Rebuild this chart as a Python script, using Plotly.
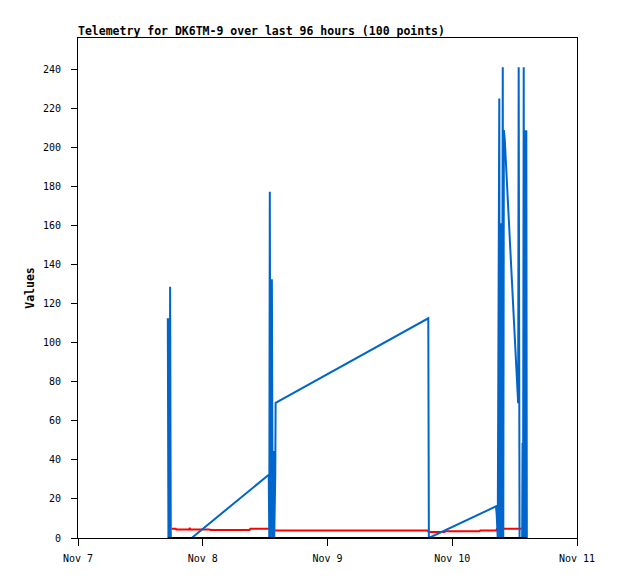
import plotly.graph_objects as go
import pandas as pd

BASE = pd.Timestamp("2024-11-07 00:00")

# Blue series: hours after Nov 7 00:00 and values
blue_hours = [17.28, 17.40, 17.48, 17.62, 17.72, 17.85, 21.87, 36.70,
              36.80, 36.90, 37.05, 37.30, 37.45, 37.62, 37.75, 37.95, 38.02,
              67.39, 67.50, 80.42, 80.55, 80.65, 80.75,
              81.05, 81.15, 81.25, 81.35, 81.45, 81.55, 81.72, 81.82,
              81.93, 82.11, 82.30, 82.48, 82.66, 82.85, 83.03, 83.21,
              83.39, 83.58, 83.76, 83.94, 84.13, 84.31, 84.49, 84.68,
              84.78, 84.95, 85.45, 85.52, 85.62, 85.75, 85.85, 85.97,
              86.10, 86.25, 86.35]
blue_values = [112.5, 0, 112.5, 0, 128.7, 0, 0, 32.4,
               0, 177.3, 0, 132.5, 0, 44.6, 0, 32.4, 69.2,
               112.5, 0, 16.2, 11.9, 5.9, 0,
               225.0, 0, 161.1, 0, 161.1, 0, 241.0, 0,
               208.8, 203.7, 193.5, 184.9, 174.7, 160.2, 156.0, 145.8,
               136.4, 127.0, 116.8, 107.4, 98.0, 92.9, 79.3, 69.0,
               241.0, 0, 0, 48.6, 0, 241.0, 0, 208.8,
               0, 208.8, 0]

# Red series
red_hours = [18.03, 18.80, 18.95, 21.40, 21.50, 21.62, 25.30, 25.45,
             33.00, 33.15, 36.85, 37.00, 67.30, 67.45, 70.50, 70.65,
             77.25, 77.40, 80.45, 80.60, 85.36]
red_values = [4.8, 4.8, 4.3, 4.3, 5.2, 4.3, 4.3, 4.1,
              4.1, 4.8, 4.8, 3.9, 3.9, 3.1, 3.1, 3.4,
              3.4, 3.9, 3.9, 4.8, 4.8]

# Black series
black_hours = [17.28, 86.35]
black_values = [0, 0]

x_range_days = ["2024-11-07", "2024-11-11"]
y_max = 256
y_step = 20
title_text = "Telemetry for DK6TM-9 over last 96 hours (100 points)"


def to_time(hours):
    return [BASE + pd.Timedelta(hours=h) for h in hours]


FONT = "DejaVu Sans Mono"
W, H = 610, 571  # page body adds an 8px offset

fig = go.Figure()
fig.add_trace(go.Scatter(x=to_time(red_hours), y=red_values, mode="lines",
                         line=dict(color="#FF0000", width=2)))
fig.add_trace(go.Scatter(x=to_time(blue_hours), y=blue_values, mode="lines",
                         line=dict(color="#0066CC", width=2)))
fig.add_trace(go.Scatter(x=to_time(black_hours), y=black_values, mode="lines",
                         line=dict(color="#000000", width=2)))

fig.update_layout(
    width=W, height=H,
    margin=dict(l=70, r=41, t=30, b=41),
    paper_bgcolor="white", plot_bgcolor="white",
    showlegend=False,
    font=dict(family=FONT, size=10, color="black"),
    title=dict(text="<b>" + title_text + "</b>", x=70 / W, xref="container",
               xanchor="left", y=1 - 22.5 / H, yref="container", yanchor="middle",
               font=dict(family=FONT, size=11.5, color="black")),
    xaxis=dict(type="date", range=x_range_days, dtick=86400000, tick0=x_range_days[0],
               tickformat="%b %-d", ticks="outside", ticklen=7, tickcolor="black",
               showline=True, linecolor="black", linewidth=1, mirror=True,
               showgrid=False, zeroline=False, ticklabelstandoff=4,
               tickfont=dict(family=FONT, size=10, color="black")),
    yaxis=dict(range=[0, y_max], dtick=y_step, tick0=0, ticks="outside", ticklen=6,
               tickcolor="black", showline=True, linecolor="black", linewidth=1,
               mirror=True, showgrid=False, zeroline=False,
               tickfont=dict(family=FONT, size=10, color="black"),
               ticklabelstandoff=8,
               title=dict(text="<b>Values</b>", standoff=5,
                          font=dict(family=FONT, size=11.5, color="black"))),
)

fig.write_html("out.html")
